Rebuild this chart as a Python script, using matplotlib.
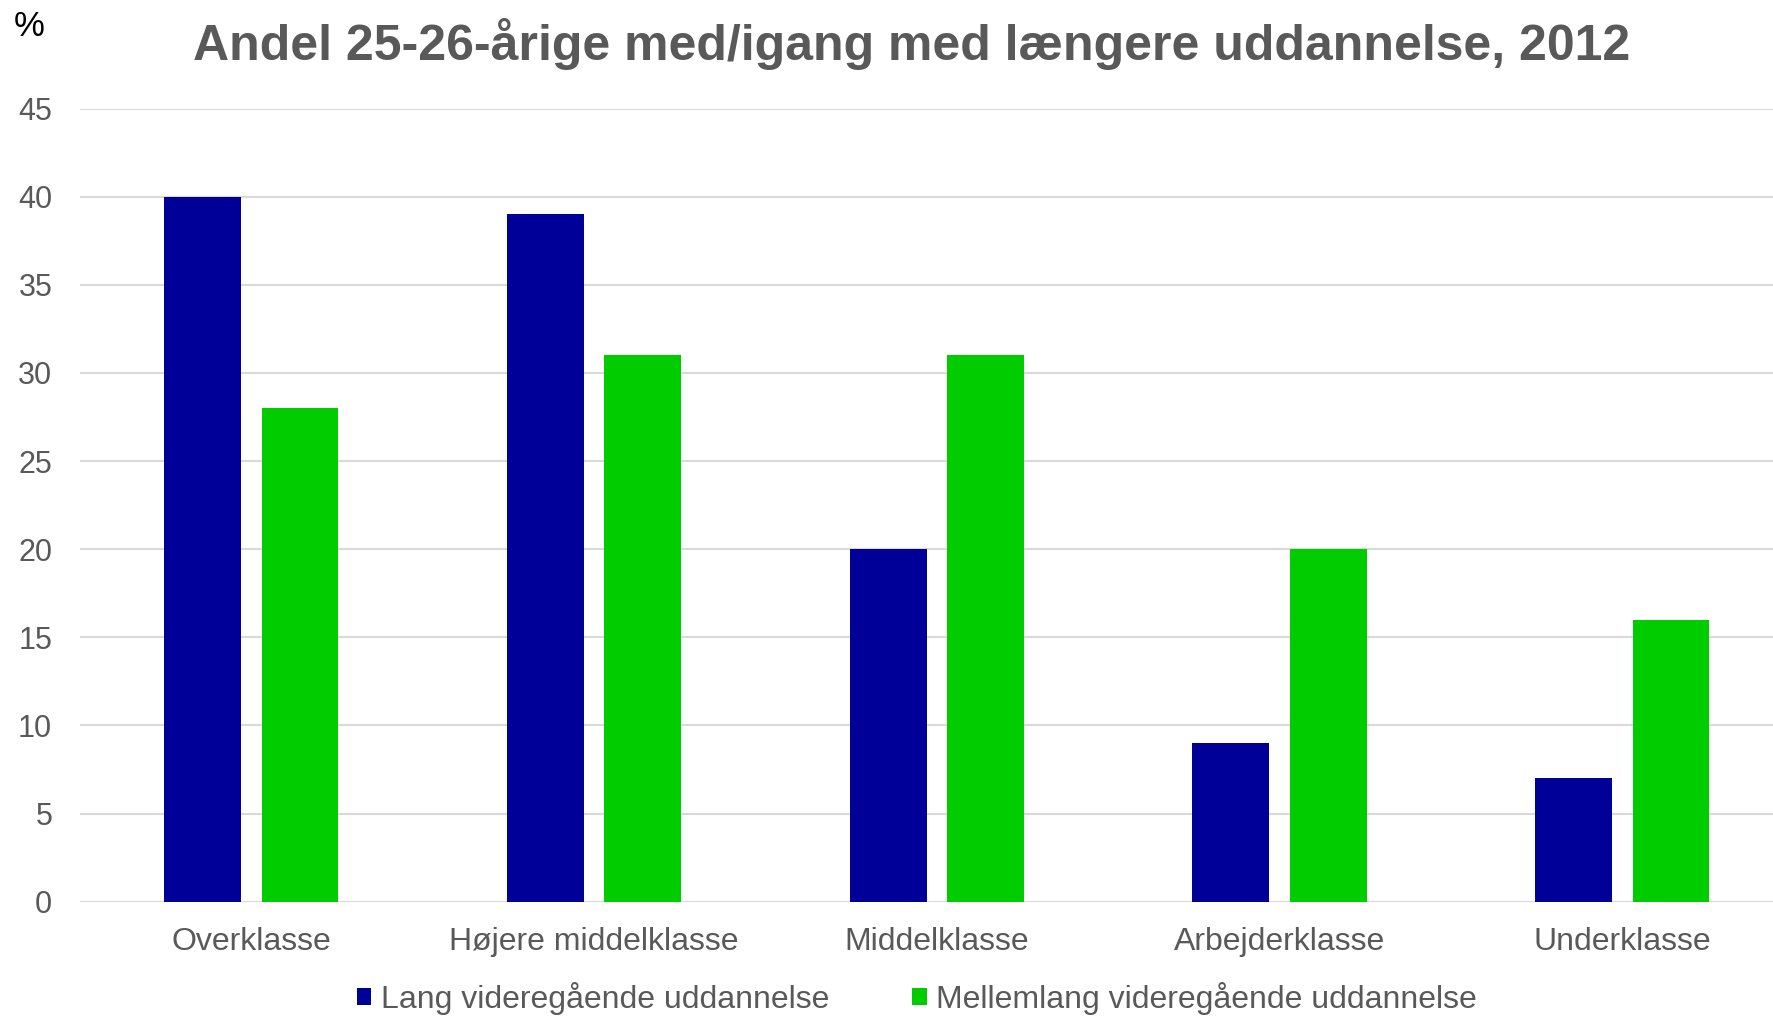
import matplotlib.pyplot as plt
from matplotlib.patches import Patch
import numpy as np

plt.rcParams['font.family'] = ['Liberation Sans', 'DejaVu Sans']

categories = ["Overklasse", "Højere middelklasse", "Middelklasse", "Arbejderklasse", "Underklasse"]
lang = [40, 39, 20, 9, 7]
mellemlang = [28, 31, 31, 20, 16]
series_names = ["Lang videregående uddannelse", "Mellemlang videregående uddannelse"]
title = "Andel 25-26-årige med/igang med længere uddannelse, 2012"

blue = "#000099"
green = "#00CC00"
grey_text = "#595959"

fig = plt.figure(figsize=(17.74, 10.17), dpi=100)
ax = fig.add_axes([0.0451, 0.1134, 0.966, 0.7798])

x = np.arange(len(categories))
w = 0.2244
ax.bar(x - 0.142, lang, width=w, color=blue, zorder=3)
ax.bar(x + 0.142, mellemlang, width=w, color=green, zorder=3)

ax.set_xlim(-0.5, 4.5)
ax.set_ylim(0, 45)
ax.set_yticks(range(0, 46, 5))
ax.yaxis.grid(True, color="#D9D9D9", linewidth=1.5, zorder=0)
for s in ax.spines.values():
    s.set_visible(False)
ax.axhline(0, color="#D9D9D9", linewidth=1.5, zorder=2)
ax.tick_params(axis="y", length=0, labelsize=22, labelcolor=grey_text, pad=20)
ax.tick_params(axis="x", length=0, labelsize=23, labelcolor=grey_text, pad=18)
ax.set_xticks(x)
ax.set_xticklabels(categories)

fig.text(0.514, 0.957, title, ha="center", va="center", fontsize=36,
         fontweight="bold", color=grey_text)
fig.text(0.008, 0.974, "%", ha="left", va="center", fontsize=25, color="black")

handles = [Patch(facecolor=blue), Patch(facecolor=green)]
fig.legend(handles, series_names, loc="center", bbox_to_anchor=(0.517, 0.018),
           ncol=2, frameon=False, fontsize=23, labelcolor=grey_text,
           handlelength=0.45, handleheight=0.45, handletextpad=0.3,
           columnspacing=2.6)

fig.savefig("out.png", dpi=100)
